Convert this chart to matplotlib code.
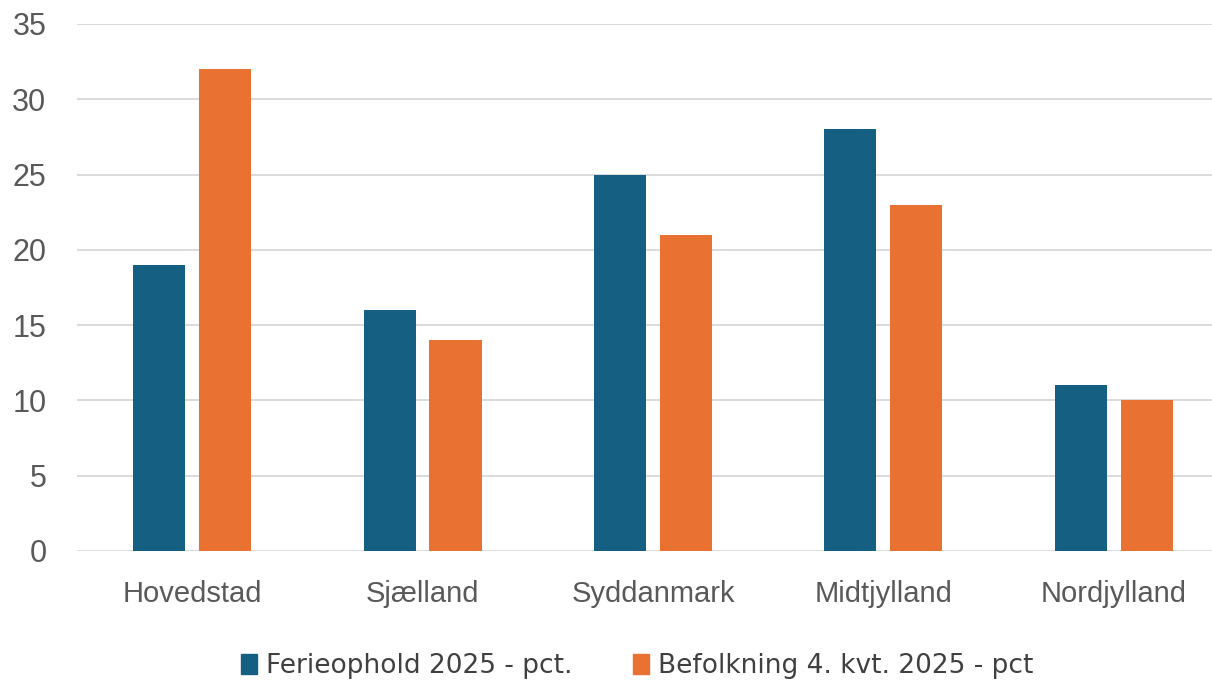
import numpy as np
import matplotlib.pyplot as plt
from matplotlib.patches import Patch

regions = ["Hovedstad", "Sjælland", "Syddanmark", "Midtjylland", "Nordjylland"]
ferie = [19, 16, 25, 28, 11]
befolkning = [32, 14, 21, 23, 10]
series_names = ["Ferieophold 2025 - pct.", "Befolkning 4. kvt. 2025 - pct"]
yticks = [0, 5, 10, 15, 20, 25, 30, 35]

blue = "#156082"
orange = "#E97132"
grey_text = "#595959"

plt.rcParams['font.family'] = ['Liberation Sans', 'DejaVu Sans']

fig = plt.figure(figsize=(12.12, 6.83), dpi=100)
ax = fig.add_axes([0.0635, 0.1933, 0.9505, 0.7716])

x = np.arange(len(regions))
w = 0.226
off = 0.143
ax.bar(x - off, ferie, width=w, color=blue, zorder=3)
ax.bar(x + off, befolkning, width=w, color=orange, zorder=3)

ax.set_xlim(-0.5, 4.5)
ax.set_ylim(0, 35)
ax.set_yticks(yticks)
ax.set_xticks(x)
ax.set_xticklabels(regions)
ax.grid(axis='y', color='#d9d9d9', linewidth=1.3, zorder=0)
for s in ax.spines.values():
    s.set_visible(False)
ax.tick_params(axis='both', length=0, colors=grey_text)
ax.tick_params(axis='y', labelsize=22, pad=22)
ax.tick_params(axis='x', labelsize=21, pad=21)

handles = [Patch(color=blue), Patch(color=orange)]
leg = fig.legend(handles, series_names, loc='center', bbox_to_anchor=(0.526, 0.025),
                 ncol=2, frameon=False, handlelength=0.6, handleheight=0.8,
                 handletextpad=0.35, columnspacing=2.3,
                 prop={'family': ['DejaVu Sans'], 'size': 19})
for t in leg.get_texts():
    t.set_color('#404040')

fig.savefig("out.png", dpi=100)
